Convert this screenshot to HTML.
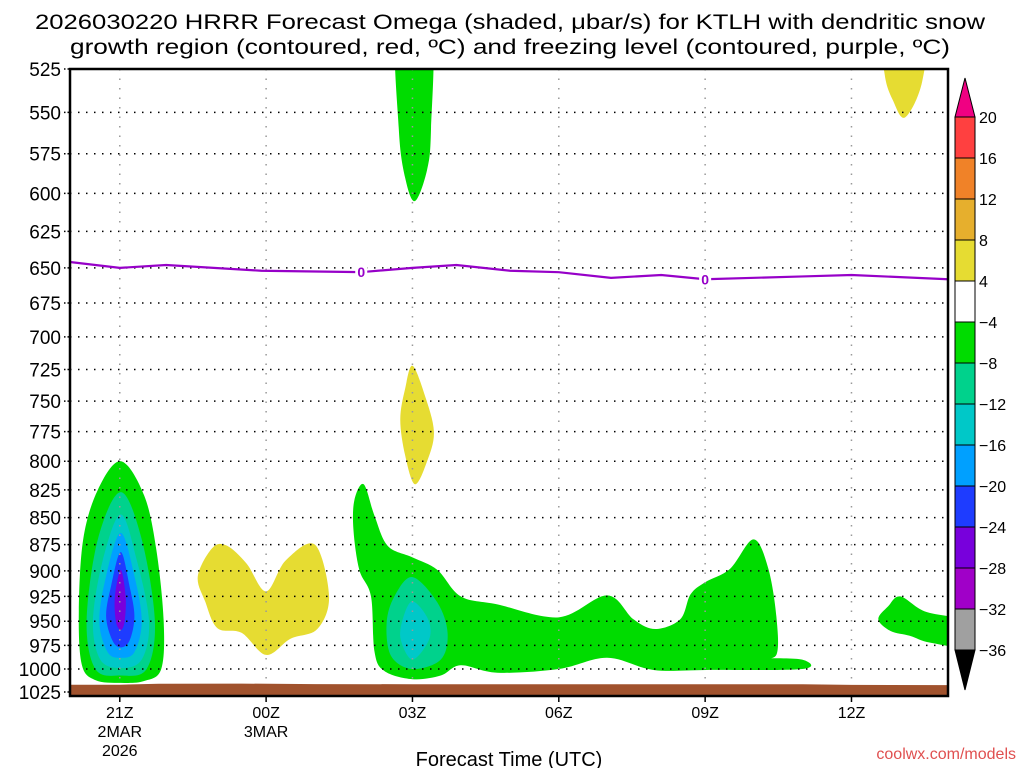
<!DOCTYPE html>
<html><head><meta charset="utf-8">
<style>
html,body{margin:0;padding:0;background:#fff;}
svg{display:block;font-family:"Liberation Sans",sans-serif;}
</style></head>
<body>
<svg id="chart" width="1024" height="768" viewBox="0 0 1024 768">
  <defs><clipPath id="plotclip"><rect x="70" y="69" width="878" height="627"/></clipPath></defs>
  <g>
    <text x="510" y="29" text-anchor="middle" font-size="21" textLength="950" lengthAdjust="spacingAndGlyphs">2026030220 HRRR Forecast Omega (shaded, μbar/s) for KTLH with dendritic snow</text>
    <text x="510" y="54" text-anchor="middle" font-size="21" textLength="880" lengthAdjust="spacingAndGlyphs">growth region (contoured, red, ºC) and freezing level (contoured, purple, ºC)</text>
  </g>
  <g id="shades" clip-path="url(#plotclip)"></g>
  <g id="grid"></g>
  <g id="freeze" clip-path="url(#plotclip)"></g>
  <g id="ground" clip-path="url(#plotclip)"></g>
  <rect x="70" y="69" width="878" height="627" fill="none" stroke="#000" stroke-width="2.5"/>
  <g id="yaxis"></g>
  <g id="xaxis"></g>
  <text x="509" y="766" text-anchor="middle" font-size="20">Forecast Time (UTC)</text>
  <text x="1016" y="759" text-anchor="end" font-size="16" fill="#e05050">coolwx.com/models</text>
  <g id="cbar"></g>
</svg>
<script>
// ---- data ----
const pressureTicks = [525,550,575,600,625,650,675,700,725,750,775,800,825,850,875,900,925,950,975,1000,1025];
const timeTickHours = [1,4,7,10,13,16];
const timeTickLabels = [["21Z","2MAR","2026"],["00Z","3MAR"],["03Z"],["06Z"],["09Z"],["12Z"]];
const cbarLevels = [20,16,12,8,4,-4,-8,-12,-16,-20,-24,-28,-32,-36];
const cbarColors = ["#ff4040","#f08228","#e6af2d","#e6dc32","#ffffff","#00dc00","#00d28c","#00c8c8","#00a0ff","#1e3cff","#7800dc","#a000c8","#a0a0a0"];
// shaded regions: [hour since 20Z, hPa]
const leftGreen = [[1.02,800],[1.5,830],[1.75,880],[1.9,950],[1.85,1000],[1.5,1013],[1.02,1015],[0.5,1012],[0.22,995],[0.16,940],[0.25,870],[0.55,825]];
const leftTeal = [[1.02,827],[1.45,870],[1.72,950],[1.55,1000],[1.02,1007],[0.5,1000],[0.32,950],[0.55,870]];
const leftCyan = [[1.02,847],[1.35,890],[1.6,950],[1.45,990],[1.02,999],[0.6,990],[0.45,950],[0.65,890]];
const leftBlue = [[1.02,864],[1.3,905],[1.45,950],[1.3,982],[1.02,988],[0.75,982],[0.58,950],[0.72,905]];
const leftDarkBlue = [[1.02,882],[1.2,915],[1.3,945],[1.2,970],[1.02,977],[0.85,970],[0.72,945],[0.82,915]];
const leftPurple = [[1.02,899],[1.12,925],[1.1,950],[1.02,959],[0.92,950],[0.9,925]];
const heartYellow = [[2.6,905],[2.9,878],[3.2,876],[3.6,893],[4.0,920],[4.4,890],[5.0,875],[5.29,925],[5.05,958],[4.5,968],[4.0,985],[3.5,962],[3.0,957],[2.75,930]];
const topGreen = [[6.68,500],[7.38,500],[7.38,560],[7.3,585],[7.05,605],[6.85,590],[6.72,560]];
const midYellow = [[7.0,722],[7.25,745],[7.44,775],[7.3,800],[7.05,820],[6.85,795],[6.75,765],[6.85,740]];
const cornerYellow = [[16.63,500],[17.5,500],[17.45,532],[17.1,553],[16.85,543],[16.68,528]];
const bandGreen = [[6.0,820],[6.22,848],[6.49,876],[7.0,887],[7.51,899],[7.99,925],[8.74,933],[10,946],[10.99,924],[11.53,948],[11.98,958],[12.49,948],[12.7,923],[13,911],[13.51,898],[13.99,870],[14.29,897],[14.46,945],[14.46,985],[14.09,988],[14.99,990],[14.99,1000],[13.03,1001],[11.94,1001],[10.99,988],[10,1000],[8.74,1004],[7.99,996],[7.58,1007],[7.0,1011],[6.42,1002],[6.22,981],[6.15,925],[5.91,899],[5.79,861],[5.81,834]];
const bandTeal = [[7.0,906],[7.51,931],[7.72,962],[7.58,990],[7.0,1000],[6.56,986],[6.47,952],[6.63,925]];
const bandCyan = [[7.0,930],[7.32,948],[7.34,969],[7.0,990],[6.76,969],[6.8,948]];
const rightGreen = [[16.55,948],[16.75,935],[17.0,925],[17.5,940],[18.3,950],[18.3,975],[17.6,972],[17.2,965],[16.8,960]];
const freezeHours = [0,1,1.95,3.9,5.94,7,7.9,9,10,11.07,12.1,13,15,16,18];
const freezeP = [646,650,648,652,653,650,648,652,653,657,655,658,656,655,658];
const freezeLabelHours = [5.95,13];
const groundHours = [0,1,1.8,3.5,5,7,10,15,16,18];
const groundP = [1017,1017,1016,1015.8,1016.3,1016.5,1016.5,1016.5,1017.2,1017.5];

// ---- axes ----
const X0=71, XS=48.78, Y0=69, Y1=692;
const lnr = Math.log(1025/525);
const xh = h => X0 + h*XS;
const yp = p => Y0 + (Y1-Y0)*Math.log(p/525)/lnr;
const NS="http://www.w3.org/2000/svg";
function mk(tag, attrs, parent){const e=document.createElementNS(NS,tag);for(const k in attrs)e.setAttribute(k,attrs[k]);parent.appendChild(e);return e;}
function smoothPath(pts){
  const P=pts.map(d=>[xh(d[0]),yp(d[1])]);const n=P.length;let s=`M${P[0][0]},${P[0][1]}`;
  for(let i=0;i<n;i++){const p0=P[(i-1+n)%n],p1=P[i],p2=P[(i+1)%n],p3=P[(i+2)%n];
    const c1=[p1[0]+(p2[0]-p0[0])/6,p1[1]+(p2[1]-p0[1])/6],c2=[p2[0]-(p3[0]-p1[0])/6,p2[1]-(p3[1]-p1[1])/6];
    s+=`C${c1[0]},${c1[1]} ${c2[0]},${c2[1]} ${p2[0]},${p2[1]}`;}
  return s+"Z";
}
const shades=document.getElementById('shades');
function region(pts,color,name){
  const e=mk('path',{d:smoothPath(pts),fill:color},shades);
  
  
}
region(leftGreen,"#00dc00","omega-left-green");
region(leftTeal,"#00d28c","omega-left-teal");
region(leftCyan,"#00c8c8","omega-left-cyan");
region(leftBlue,"#00a0ff","omega-left-blue");
region(leftDarkBlue,"#1e3cff","omega-left-darkblue");
region(leftPurple,"#7800dc","omega-left-purple");
region(heartYellow,"#e6dc32","omega-heart-yellow");
region(topGreen,"#00dc00","omega-top-green");
region(midYellow,"#e6dc32","omega-mid-yellow");
region(cornerYellow,"#e6dc32","omega-corner-yellow");
region(bandGreen,"#00dc00","omega-band-green");
region(bandTeal,"#00d28c","omega-band-teal");
region(bandCyan,"#00c8c8","omega-band-cyan");
region(rightGreen,"#00dc00","omega-right-green");

// grid
const grid=document.getElementById('grid');
pressureTicks.forEach(p=>{
  const l=mk('line',{x1:70,x2:948,y1:yp(p),y2:yp(p),stroke:"#000","stroke-width":1.5,"stroke-dasharray":"1.5 6.5"},grid);
  
  
});
timeTickHours.forEach(h=>{
  const l=mk('line',{x1:xh(h),x2:xh(h),y1:69,y2:695,stroke:"#999","stroke-width":1.5,"stroke-dasharray":"1.5 8"},grid);
  
  
});

// ground
const gpts=groundHours.map((h,i)=>`${xh(h)},${yp(groundP[i])}`).join(' ');
const gr=mk('polygon',{points:`${xh(groundHours[0])},700 ${gpts} ${xh(groundHours[groundHours.length-1])},700`,fill:"#a0522d"},document.getElementById('ground'));



// freezing line
const fz=document.getElementById('freeze');
const fl=mk('polyline',{points:freezeHours.map((h,i)=>`${xh(h)},${yp(freezeP[i])}`).join(' '),fill:"none",stroke:"#9600c8","stroke-width":2.2},fz);


function interpP(h){for(let i=0;i<freezeHours.length-1;i++){if(h>=freezeHours[i]&&h<=freezeHours[i+1]){const t=(h-freezeHours[i])/(freezeHours[i+1]-freezeHours[i]);return freezeP[i]+t*(freezeP[i+1]-freezeP[i]);}}return freezeP[0];}
freezeLabelHours.forEach(h=>{
  const x=xh(h),y=yp(interpP(h));
  const b=mk('rect',{x:x-6,y:y-7,width:12,height:14,fill:"#fff"},fz);
  
  
  const t=mk('text',{x:x,y:y+5,"text-anchor":"middle","font-size":14,"font-weight":"bold",fill:"#9600c8"},fz);
  t.textContent="0";
  
  
});

// y axis
const ya=document.getElementById('yaxis');
pressureTicks.forEach(p=>{
  const tk=mk('line',{x1:64,x2:70,y1:yp(p),y2:yp(p),stroke:"#000","stroke-width":1.5,"stroke-dasharray":"1.5 2"},ya);
  
  
  const t=mk('text',{x:61,y:yp(p)+7,"text-anchor":"end","font-size":19},ya);
  t.textContent=p;
  
  
});
// x axis
const xa=document.getElementById('xaxis');
timeTickHours.forEach((h,i)=>{
  const tk=mk('line',{x1:xh(h),x2:xh(h),y1:695,y2:702,stroke:"#000","stroke-width":1.5},xa);
  
  
  timeTickLabels[i].forEach((s,j)=>{
    const t=mk('text',{x:xh(h),y:718+j*19,"text-anchor":"middle","font-size":16},xa);
    t.textContent=s;
    
    
  });
});

// colorbar
const cb=document.getElementById('cbar');
const CB_TOP=117, CB_STEP=41, CBX=955, CBW=20;
cbarColors.forEach((c,i)=>{
  const r=mk('rect',{x:CBX,y:CB_TOP+i*CB_STEP,width:CBW,height:CB_STEP,fill:c,stroke:"#000","stroke-width":1},cb);
  
  
});
const tu=mk('polygon',{points:`${CBX},${CB_TOP} ${CBX+CBW},${CB_TOP} ${CBX+CBW/2},78`,fill:"#f00082",stroke:"#000","stroke-width":1},cb);


const bot=CB_TOP+cbarColors.length*CB_STEP;
const td=mk('polygon',{points:`${CBX},${bot} ${CBX+CBW},${bot} ${CBX+CBW/2},690`,fill:"#000",stroke:"#000","stroke-width":1},cb);


cbarLevels.forEach((v,i)=>{
  const t=mk('text',{x:979,y:CB_TOP+i*CB_STEP+6,"font-size":16},cb);
  t.textContent=v<0?"\u2212"+(-v):String(v);
  
  
});
</script>
</body></html>
